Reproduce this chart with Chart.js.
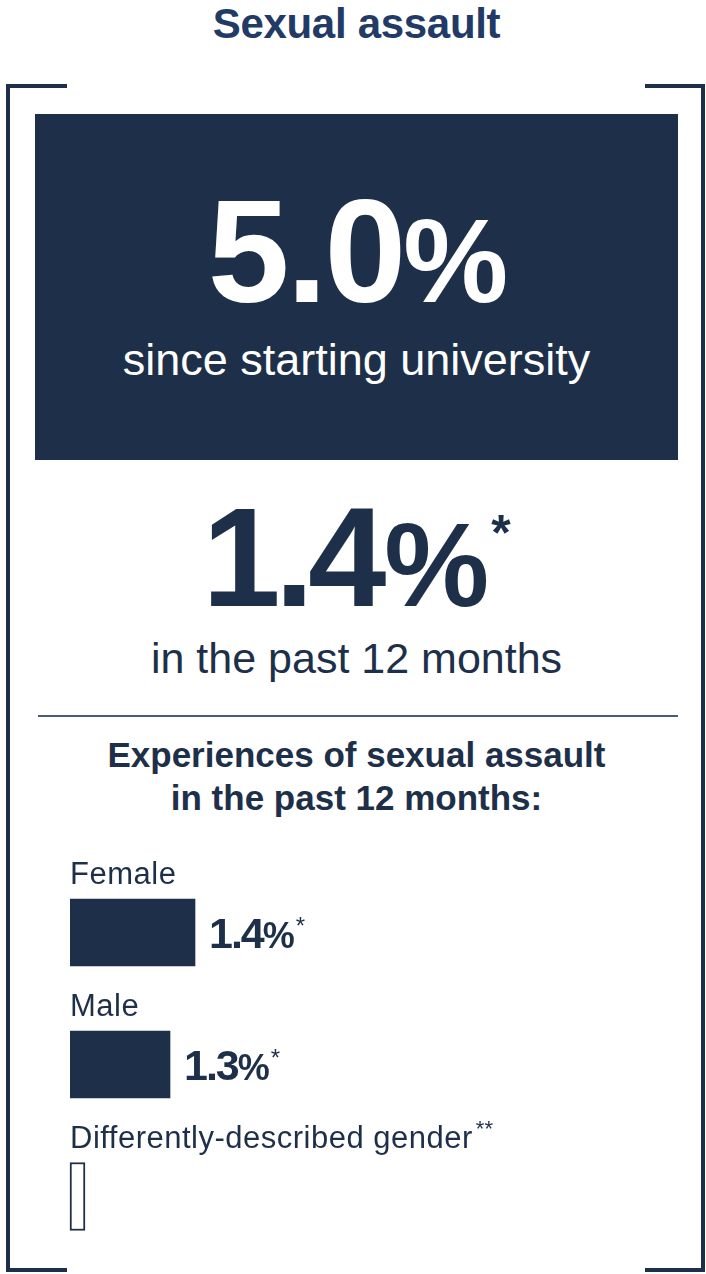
<!DOCTYPE html>
<html>
<head>
<meta charset="utf-8">
<script src="https://cdn.jsdelivr.net/npm/chart.js@4/dist/chart.umd.min.js"></script>
<style>
  html, body { margin: 0; padding: 0; background: #fff; }
  body { width: 706px; height: 1274px; position: relative; overflow: hidden;
         font-family: "Liberation Sans", Arial, sans-serif; color: #1e3049; }
  .abs { position: absolute; }
  .line { position: absolute; background: #1e3049; }
  .center { left: 35px; width: 643px; text-align: center; line-height: 1; white-space: nowrap; }
  #title { top: 3px; font-size: 42px; font-weight: bold; color: #213b66; letter-spacing: -0.3px; }
  #box { left: 35px; top: 114px; width: 643px; height: 346px; background: #1e3049; }
  #bigA { top: 178px; font-size: 147px; font-weight: bold; color: #fff; letter-spacing: -3px; }
  #bigA .pct { font-size: 118px; }
  #sinceTxt { top: 337px; font-size: 45px; color: #fff; }
  #bigB { top: 487px; font-size: 141px; font-weight: bold; letter-spacing: -6px; }
  #bigB .pct { font-size: 118px; letter-spacing: 0; margin-left: 4px; }
  #bigB .star { font-size: 50px; position: relative; top: -56px; letter-spacing: 0; margin-left: 2px; }
  #pastTxt { top: 637px; font-size: 43px; }
  #rule { left: 38px; top: 715px; width: 640px; height: 2px; background: #4b5a77; }
  #subTxt { top: 733px; font-size: 35px; font-weight: bold; line-height: 43px; white-space: normal; }
  #chartWrap { position: absolute; left: 60px; top: 840px; width: 620px; height: 430px; }
</style>
</head>
<body>
<div class="line" style="left:6px;top:84px;width:4px;height:1188px;"></div>
<div class="line" style="left:6px;top:84px;width:61px;height:4px;"></div>
<div class="line" style="left:6px;top:1268px;width:61px;height:4px;"></div>
<div class="line" style="left:701px;top:84px;width:4px;height:1188px;"></div>
<div class="line" style="left:645px;top:84px;width:60px;height:4px;"></div>
<div class="line" style="left:645px;top:1268px;width:60px;height:4px;"></div>

<div id="title" class="abs center"></div>
<div id="box" class="abs"></div>
<div id="bigA" class="abs center"></div>
<div id="sinceTxt" class="abs center"></div>
<div id="bigB" class="abs center"></div>
<div id="pastTxt" class="abs center"></div>
<div id="rule" class="abs"></div>
<div id="subTxt" class="abs center"></div>
<div id="chartWrap"><canvas id="genderChart"></canvas></div>

<script>
// headline figures
const chartTitle = 'Sexual assault';
const sinceStartValue = 5.0;
const sinceStartLabel = 'since starting university';
const pastYearValue = 1.4;
const pastYearLabel = 'in the past 12 months';
const pastYearNote = '*';
const breakdownTitle = ['Experiences of sexual assault', 'in the past 12 months:'];

// breakdown by gender
const categories = ['Female', 'Male', 'Differently-described gender'];
const categoryNotes = ['', '', '**'];
const values = [1.4, 1.3, null];
const valueNotes = ['*', '*', ''];
const placeholderValues = [null, null, 0.96]; // empty outline for suppressed figure

// value axis range (bars in the source do not start at zero)
const xMin = 0.9;
const xMax = 3.3;

const navy = '#1e3049';

document.getElementById('title').textContent = chartTitle;
document.getElementById('bigA').innerHTML = sinceStartValue.toFixed(1) + '<span class="pct">%</span>';
document.getElementById('sinceTxt').textContent = sinceStartLabel;
document.getElementById('bigB').innerHTML = pastYearValue.toFixed(1) + '<span class="pct">%</span><span class="star">' + pastYearNote + '</span>';
document.getElementById('pastTxt').textContent = pastYearLabel;
document.getElementById('subTxt').innerHTML = breakdownTitle.join('<br>');

const barLabels = {
  id: 'barLabels',
  afterDatasetsDraw(chart) {
    const ctx = chart.ctx;
    const left = chart.chartArea.left;
    const xs = chart.scales.x, ys = chart.scales.y;
    ctx.save();
    ctx.fillStyle = navy;
    ctx.textBaseline = 'alphabetic';
    categories.forEach(function (cat, i) {
      const cy = ys.getPixelForTick(i);
      const base = cy - 33.5 - 15;
      ctx.letterSpacing = '0.5px';
      ctx.font = '31px "Liberation Sans", Arial, sans-serif';
      ctx.fillText(cat, left, base);
      if (categoryNotes[i]) {
        const w = ctx.measureText(cat).width;
        ctx.letterSpacing = '0px';
        ctx.font = '22px "Liberation Sans", Arial, sans-serif';
        ctx.fillText(categoryNotes[i], left + w + 3, base - 12);
      }
      if (values[i] != null) {
        let x = xs.getPixelForValue(values[i]) + 14;
        const vb = cy + 15.5;
        ctx.font = 'bold 43px "Liberation Sans", Arial, sans-serif';
        ctx.letterSpacing = '-2px';
        const num = values[i].toFixed(1);
        ctx.fillText(num, x, vb);
        x += ctx.measureText(num).width;
        ctx.font = 'bold 36px "Liberation Sans", Arial, sans-serif';
        ctx.fillText('%', x, vb);
        x += ctx.measureText('%').width;
        ctx.letterSpacing = '0px';
        ctx.font = '24px "Liberation Sans", Arial, sans-serif';
        ctx.fillText(valueNotes[i], x + 3, vb - 14);
      }
    });
    ctx.restore();
  }
};

new Chart(document.getElementById('genderChart').getContext('2d'), {
  type: 'bar',
  data: {
    labels: categories,
    datasets: [{
      data: values,
      base: xMin,
      backgroundColor: navy,
      borderWidth: 0,
      barThickness: 67
    }, {
      data: placeholderValues,
      base: xMin,
      backgroundColor: '#ffffff',
      borderColor: navy,
      borderWidth: 2,
      borderSkipped: false,
      clip: false,
      barThickness: 68
    }]
  },
  options: {
    indexAxis: 'y',
    responsive: true,
    maintainAspectRatio: false,
    animation: false,
    grouped: false,
    layout: { padding: { left: 10, right: 10, top: 26.5, bottom: 7.5 } },
    scales: {
      x: { display: false, min: xMin, max: xMax },
      y: { display: false }
    },
    plugins: { legend: { display: false }, tooltip: { enabled: false } }
  },
  plugins: [barLabels]
});
</script>
</body>
</html>
